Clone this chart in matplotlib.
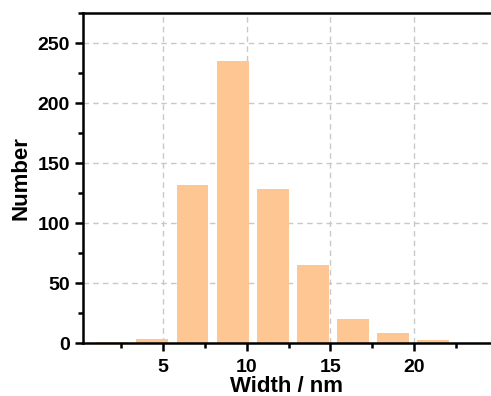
import matplotlib.pyplot as plt
from matplotlib.ticker import MultipleLocator

plt.rcParams['font.family'] = ['Liberation Sans', 'DejaVu Sans']
plt.rcParams['font.weight'] = 'bold'

# histogram bins (width 2.4 nm) and counts
bin_centers = [1.95, 4.35, 6.75, 9.15, 11.55, 13.95, 16.35, 18.75, 21.15]
counts = [1, 4, 132, 235, 129, 65, 20, 9, 3]

fig = plt.figure(figsize=(4.91, 3.96), dpi=100)
ax = fig.add_axes([0.169, 0.133, 0.831, 0.833])

ax.bar(bin_centers, counts, width=1.9, color='#FDC692', zorder=2)

ax.set_xlim(0.2, 24.6)
ax.set_ylim(0, 275)
ax.xaxis.set_major_locator(MultipleLocator(5))
ax.xaxis.set_minor_locator(MultipleLocator(2.5))
ax.yaxis.set_major_locator(MultipleLocator(50))
ax.yaxis.set_minor_locator(MultipleLocator(25))

ax.grid(True, which='major', linestyle=(0, (4, 3)), color='#c8c8c8', linewidth=1, zorder=0)
ax.set_axisbelow(True)

for s in ['left', 'bottom', 'top']:
    ax.spines[s].set_linewidth(1.8)
ax.spines['right'].set_visible(False)

ax.tick_params(which='major', direction='out', length=6, width=1.8, labelsize=14)
ax.tick_params(axis='x', which='major', pad=5)
ax.tick_params(which='minor', direction='out', length=3.5, width=1.8)
ax.tick_params(axis='x', which='both', top=False)

ax.set_xlabel('Width / nm', fontsize=16, fontweight='bold', labelpad=0.5)
ax.set_ylabel('Number', fontsize=16, fontweight='bold', labelpad=4)

fig.savefig('out.png', dpi=100)
